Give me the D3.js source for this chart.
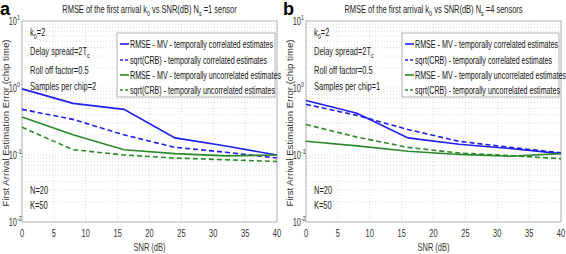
<!DOCTYPE html>
<html>
<head>
<meta charset="utf-8">
<script src="https://cdn.jsdelivr.net/npm/d3@7"></script>
<style>
  body { margin: 0; background: #fff; }
  text { font-family: "Liberation Sans", Arial, sans-serif; }
</style>
</head>
<body>
<script>
// RMSE vs SNR, two panels

let snr = [0, 8, 16, 24, 32, 40]
let xTicks = [0, 5, 10, 15, 20, 25, 30, 35, 40]
let yTicks = [10, 1, 0.1, 0.01]
let yTickExp = ['1', '0', '-1', '-2']

// panel a (Ns = 1)
let a_rmseCorr = [0.97, 0.59, 0.48, 0.18, 0.136, 0.10]
let a_crbCorr = [0.48, 0.34, 0.20, 0.13, 0.11, 0.09]
let a_rmseUncorr = [0.37, 0.20, 0.12, 0.105, 0.097, 0.10]
let a_crbUncorr = [0.26, 0.12, 0.10, 0.09, 0.085, 0.08]

// panel b (Ns = 4)
let b_rmseCorr = [0.65, 0.42, 0.18, 0.145, 0.125, 0.105]
let b_crbCorr = [0.57, 0.39, 0.24, 0.16, 0.13, 0.108]
let b_rmseUncorr = [0.16, 0.137, 0.114, 0.102, 0.096, 0.105]
let b_crbUncorr = [0.285, 0.185, 0.13, 0.107, 0.098, 0.088]

let legendLabels = [
  'RMSE - MV - temporally correlated  estimates',
  'sqrt(CRB) - temporally correlated estimates',
  'RMSE - MV - temporally uncorrelated estimates',
  'sqrt(CRB) - temporally uncorrelated estimates'
]

let blue = '#1f1fef'
let green = '#2a8a2a'
let narrow = 0.68 // no condensed font installed, squeeze it

let W = 566, H = 254
let svg = d3.select('body').append('svg').attr('width', W).attr('height', H)

// condensed text helper
function ntext(g, x, y, size) {
  return g.append('text')
    .attr('transform', 'translate(' + x + ',' + y + ') scale(' + narrow + ',1)')
    .attr('font-size', size).attr('fill', '#222')
}

function drawPanel(opts) {
  let left = opts.left, right = opts.right, top = 21, bottom = 222
  let g = svg.append('g')
  let x = d3.scaleLinear().domain([0, 40]).range([left, right])
  let y = d3.scaleLog().domain([0.01, 10]).range([bottom, top])

  // grid
  let minor = []
  for (let e = -2; e < 1; e++) for (let m = 1; m < 10; m++) minor.push(m * Math.pow(10, e))
  g.selectAll('.gy').data(minor).enter().append('line')
    .attr('x1', left).attr('x2', right)
    .attr('y1', d => y(d)).attr('y2', d => y(d))
    .attr('stroke', '#d4d4d4').attr('stroke-width', 0.8).attr('stroke-dasharray', '1,2')
  g.selectAll('.gx').data(xTicks).enter().append('line')
    .attr('x1', d => x(d)).attr('x2', d => x(d))
    .attr('y1', top).attr('y2', bottom)
    .attr('stroke', '#d4d4d4').attr('stroke-width', 0.8).attr('stroke-dasharray', '1,2')

  // frame
  g.append('rect').attr('x', left).attr('y', top).attr('width', right - left).attr('height', bottom - top)
    .attr('fill', 'none').attr('stroke', '#a0a0a0').attr('stroke-width', 0.8)

  // x tick labels
  xTicks.forEach(d => {
    ntext(g, x(d), 237, 11).attr('text-anchor', 'middle').attr('fill', '#333').text(d)
  })
  ntext(g, (left + right) / 2, 251, 11).attr('text-anchor', 'middle').attr('fill', '#333').text('SNR (dB)')

  // y tick labels
  yTicks.forEach((d, i) => {
    ntext(g, left - 5, y(d) + 4, 11).attr('text-anchor', 'end').attr('fill', '#333').text('10')
    ntext(g, left - 5, y(d) - 1.5, 8).attr('fill', '#333').text(yTickExp[i])
  })

  // y axis label
  g.append('text').attr('transform', 'translate(' + (left - 13.5) + ',' + 123 + ') rotate(-90)')
    .attr('text-anchor', 'middle').attr('font-size', 9.6).attr('fill', '#333')
    .text('First Arrival Estimation Error (chip time)')

  // panel letter
  g.append('text').attr('x', opts.letterX).attr('y', 15).attr('font-size', 18).attr('font-weight', 'bold')
    .text(opts.letter)

  // title
  let tt = ntext(g, (left + right) / 2, 13, 11).attr('text-anchor', 'middle')
  tt.append('tspan').text('RMSE of the first arrival k')
  tt.append('tspan').attr('dy', 3).attr('font-size', 8).text('0')
  tt.append('tspan').attr('dy', -3).text(' vs SNR(dB) N')
  tt.append('tspan').attr('dy', 3).attr('font-size', 8).text('s')
  tt.append('tspan').attr('dy', -3).text(' =' + opts.ns)

  // annotations
  let ax = left + 8
  let k0 = ntext(g, ax, 36, 11)
  k0.append('tspan').text('k')
  k0.append('tspan').attr('dy', 3).attr('font-size', 8).text('0')
  k0.append('tspan').attr('dy', -3).text('=2')
  let ds = ntext(g, ax, 55, 11)
  ds.append('tspan').text('Delay spread=2T')
  ds.append('tspan').attr('dy', 3).attr('font-size', 8).text('c')
  ntext(g, ax, 74, 11).text('Roll off factor=0.5')
  ntext(g, ax, 90, 11).text('Samples per chip=' + opts.spc)
  ntext(g, ax, 194, 11).text('N=20')
  ntext(g, ax, 209, 11).text('K=50')

  // series
  let series = [
    { v: opts.rmseCorr, c: blue, dash: null },
    { v: opts.crbCorr, c: blue, dash: '5,3' },
    { v: opts.rmseUncorr, c: green, dash: null },
    { v: opts.crbUncorr, c: green, dash: '5,3' }
  ]
  let line = d3.line().x((d, i) => x(snr[i])).y(d => y(d))
  series.forEach(s => {
    g.append('path').attr('d', line(s.v))
      .attr('fill', 'none').attr('stroke', s.c).attr('stroke-width', 1.6)
      .attr('stroke-dasharray', s.dash)
  })

  // legend
  let lx = opts.legLeft, lw = right - 2 - lx
  g.append('rect').attr('x', lx).attr('y', 33).attr('width', lw).attr('height', 64)
    .attr('fill', '#fff').attr('stroke', '#a0a0a0').attr('stroke-width', 0.8)
  let rowsY = [44, 60, 75, 90]
  series.forEach((s, i) => {
    g.append('line').attr('x1', lx + 3).attr('x2', lx + 12).attr('y1', rowsY[i]).attr('y2', rowsY[i])
      .attr('stroke', s.c).attr('stroke-width', 1.6).attr('stroke-dasharray', s.dash ? '3,2' : null)
    ntext(g, lx + 13, rowsY[i] + 3.5, 10.5).attr('fill', '#111').text(legendLabels[i])
  })
}

drawPanel({
  left: 22, right: 277, letter: 'a', letterX: 0, ns: '1 sensor', spc: 2, legLeft: 117,
  rmseCorr: a_rmseCorr, crbCorr: a_crbCorr, rmseUncorr: a_rmseUncorr, crbUncorr: a_crbUncorr
})
drawPanel({
  left: 306, right: 561, letter: 'b', letterX: 283, ns: '4 sensors', spc: 1, legLeft: 402,
  rmseCorr: b_rmseCorr, crbCorr: b_crbCorr, rmseUncorr: b_rmseUncorr, crbUncorr: b_crbUncorr
})
</script>
</body>
</html>
